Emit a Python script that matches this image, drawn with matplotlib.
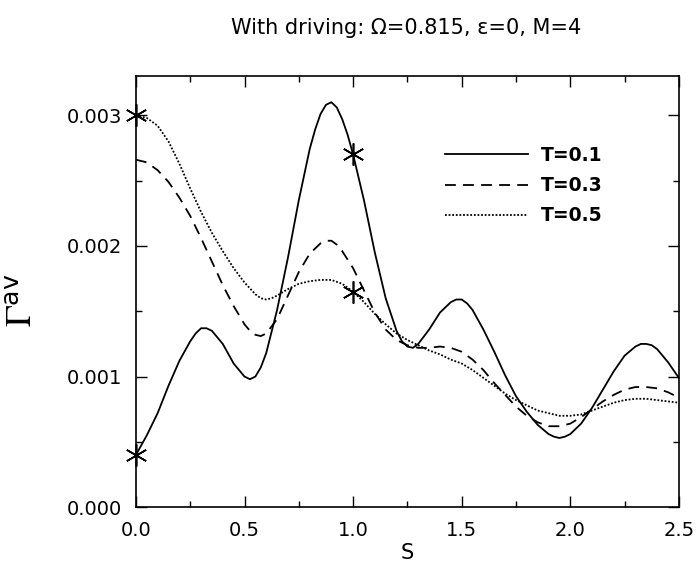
import matplotlib
matplotlib.use("Agg")
import matplotlib.pyplot as plt
import numpy as np

plt.rcParams['font.family'] = ['DejaVu Sans']
plt.rcParams['mathtext.fontset'] = 'stix'

# values
s_t01 = [0.0, 0.05, 0.1, 0.15, 0.2, 0.25, 0.275, 0.3, 0.325, 0.35, 0.4, 0.45, 0.5, 0.525,
         0.55, 0.575, 0.6, 0.65, 0.7, 0.75, 0.8, 0.825, 0.85, 0.875, 0.9, 0.925, 0.95,
         0.975, 1.0, 1.05, 1.1, 1.15, 1.2, 1.225, 1.25, 1.275, 1.3, 1.35, 1.4, 1.45, 1.475,
         1.5, 1.525, 1.55, 1.6, 1.65, 1.7, 1.75, 1.8, 1.85, 1.9, 1.925, 1.95, 1.975, 2.0,
         2.05, 2.1, 2.15, 2.2, 2.25, 2.3, 2.325, 2.35, 2.375, 2.4, 2.45, 2.5]
g_t01 = [0.00040, 0.00055, 0.00072, 0.00093, 0.00112, 0.00127, 0.00133, 0.00137, 0.00137,
         0.00135, 0.00125, 0.00110, 0.00100, 0.00098, 0.00100, 0.00107, 0.00118, 0.00151,
         0.00191, 0.00235, 0.00274, 0.00289, 0.00301, 0.00308, 0.00310, 0.00306, 0.00297,
         0.00285, 0.00270, 0.00235, 0.00195, 0.00160, 0.00135, 0.00127, 0.00123, 0.00122,
         0.00125, 0.00136, 0.00149, 0.00157, 0.00159, 0.00159, 0.00156, 0.00151, 0.00136,
         0.00119, 0.00101, 0.00085, 0.00073, 0.00063, 0.00056, 0.00054, 0.00053, 0.00054,
         0.00056, 0.00064, 0.00076, 0.00090, 0.00104, 0.00116, 0.00123, 0.00125, 0.00125,
         0.00124, 0.00121, 0.00111, 0.00099]

s_t03 = [0.0, 0.05, 0.1, 0.15, 0.2, 0.25, 0.3, 0.35, 0.4, 0.45, 0.5, 0.525, 0.55, 0.575,
         0.6, 0.65, 0.7, 0.75, 0.8, 0.85, 0.875, 0.9, 0.925, 0.95, 1.0, 1.05, 1.1, 1.15,
         1.2, 1.25, 1.3, 1.35, 1.4, 1.45, 1.5, 1.55, 1.6, 1.65, 1.7, 1.75, 1.8, 1.85, 1.9,
         1.925, 1.95, 2.0, 2.05, 2.1, 2.15, 2.2, 2.25, 2.3, 2.35, 2.4, 2.45, 2.5]
g_t03 = [0.00266, 0.00264, 0.00258, 0.00249, 0.00237, 0.00223, 0.00206, 0.00188, 0.00170,
         0.00154, 0.00140, 0.00135, 0.00132, 0.00131, 0.00133, 0.00144, 0.00162, 0.00180,
         0.00194, 0.00202, 0.00204, 0.00204, 0.00201, 0.00196, 0.00183, 0.00166, 0.00149,
         0.00136, 0.00128, 0.00124, 0.00122, 0.00122, 0.00123, 0.00122, 0.00119, 0.00113,
         0.00105, 0.00095, 0.00086, 0.00077, 0.00070, 0.00065, 0.00062, 0.00062, 0.00062,
         0.00064, 0.00069, 0.00075, 0.00081, 0.00086, 0.00090, 0.00092, 0.00092, 0.00091,
         0.00088, 0.00084]

s_t05 = [0.0, 0.05, 0.1, 0.15, 0.2, 0.25, 0.3, 0.35, 0.4, 0.45, 0.5, 0.55, 0.575, 0.6,
         0.625, 0.65, 0.7, 0.75, 0.8, 0.85, 0.9, 0.95, 1.0, 1.05, 1.1, 1.15, 1.2, 1.25,
         1.3, 1.35, 1.4, 1.45, 1.5, 1.55, 1.6, 1.65, 1.7, 1.75, 1.8, 1.85, 1.9, 1.95, 2.0,
         2.05, 2.1, 2.15, 2.2, 2.25, 2.3, 2.35, 2.4, 2.45, 2.5]
g_t05 = [0.00300, 0.00298, 0.00292, 0.00280, 0.00263, 0.00244, 0.00226, 0.00210, 0.00196,
         0.00183, 0.00172, 0.00163, 0.00160, 0.00159, 0.00160, 0.00162, 0.00167, 0.00171,
         0.00173, 0.00174, 0.00174, 0.00171, 0.00165, 0.00157, 0.00148, 0.00140, 0.00133,
         0.00128, 0.00124, 0.00120, 0.00117, 0.00113, 0.00110, 0.00105, 0.00099, 0.00093,
         0.00087, 0.00082, 0.00078, 0.00074, 0.00072, 0.00070, 0.00070, 0.00071, 0.00074,
         0.00077, 0.00080, 0.00082, 0.00083, 0.00083, 0.00082, 0.00081, 0.00080]

star_s = [0.0, 0.0, 1.0, 1.0]
star_g = [0.00040, 0.00300, 0.00270, 0.00165]

fig = plt.figure(figsize=(6.97, 5.68), dpi=100)
ax = fig.add_axes([0.195, 0.107, 0.779, 0.759])

ax.plot(s_t01, g_t01, '-', color='black', lw=1.3, label='T=0.1')
ax.plot(s_t03, g_t03, '--', color='black', lw=1.3, dashes=(6, 4), label='T=0.3')
ax.plot(s_t05, g_t05, ':', color='black', lw=1.3, dashes=(1, 1), label='T=0.5')
ax.plot(star_s, star_g, ls='none', marker=(6, 2, 0), ms=16, mew=1.2,
        color='black', clip_on=False, zorder=5)

ax.set_xlim(0, 2.5)
ax.set_ylim(0, 0.0033)
ax.set_xticks(np.arange(0, 2.51, 0.5))
ax.set_xticks(np.arange(0, 2.51, 0.25), minor=True)
ax.set_yticks([0, 0.001, 0.002, 0.003])
ax.set_yticks(np.arange(0, 0.0033, 0.0005), minor=True)
ax.set_xticklabels(['0.0', '0.5', '1.0', '1.5', '2.0', '2.5'])
ax.set_yticklabels(['0.000', '0.001', '0.002', '0.003'])
ax.tick_params(which='both', direction='in', top=True, right=True, labelsize=14, pad=10)
ax.tick_params(which='major', length=8, width=1)
ax.tick_params(which='minor', length=4, width=1)
for sp in ax.spines.values():
    sp.set_linewidth(1.2)

ax.set_xlabel('S', fontsize=15, labelpad=2)
ax.set_ylabel(r'$\Gamma^{\mathregular{av}}$', fontsize=26)
ax.yaxis.set_label_coords(-0.178, 0.48)

fig.text(0.583, 1 - 28 / 568, 'With driving: Ω=0.815, ε=0, M=4',
         ha='center', va='center', fontsize=15)

ax.legend(loc='upper left', bbox_to_anchor=(0.552, 0.86), frameon=False,
          handlelength=4.4, handletextpad=0.7, labelspacing=0.6,
          prop={'size': 13.5, 'weight': 'bold'}, borderpad=0)

fig.savefig('out.png', dpi=100)
